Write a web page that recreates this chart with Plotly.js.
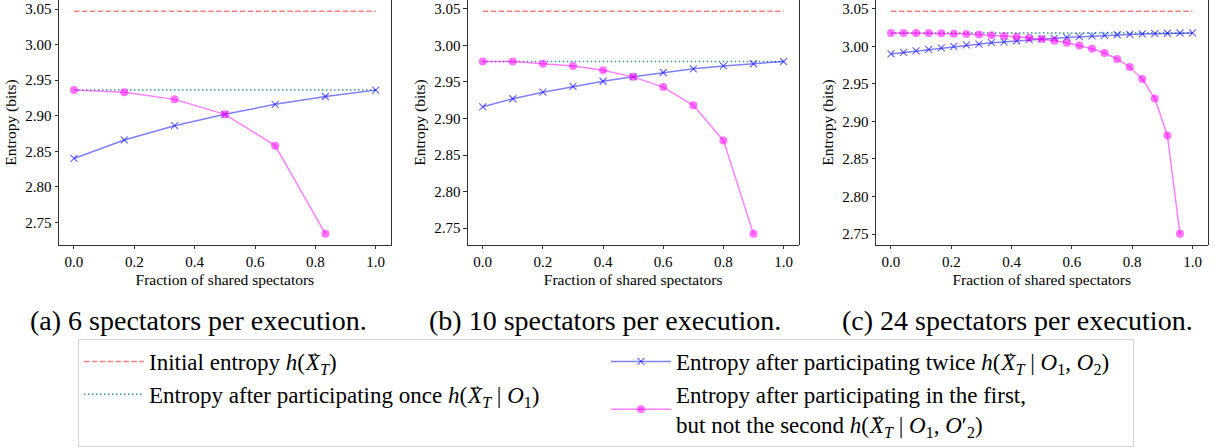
<!DOCTYPE html>
<html>
<head>
<meta charset="utf-8">
<script src="https://cdn.plot.ly/plotly-3.0.1.min.js"></script>
<style>html,body{margin:0;padding:0;background:#fff;}#chart{width:1215px;height:448px;}</style>
</head>
<body>
<div id="chart"></div>
<script>
// ---- data ----
const fracA = [0, 0.1667, 0.3333, 0.5, 0.6667, 0.8333, 1];
const fracB = [0, 0.1, 0.2, 0.3, 0.4, 0.5, 0.6, 0.7, 0.8, 0.9, 1];
const fracC = [0, 0.0417, 0.0833, 0.125, 0.1667, 0.2083, 0.25, 0.2917, 0.3333, 0.375, 0.4167, 0.4583, 0.5,
               0.5417, 0.5833, 0.625, 0.6667, 0.7083, 0.75, 0.7917, 0.8333, 0.875, 0.9167, 0.9583, 1];

const initialEntropy = [3.047, 3.047, 3.047];   // per panel
const onceEntropy = [2.936, 2.978, 3.018];      // per panel

const twiceA = [2.840, 2.866, 2.886, 2.902, 2.916, 2.927, 2.936];
const firstOnlyA = [2.936, 2.933, 2.923, 2.902, 2.858, 2.734];

const twiceB = [2.916, 2.927, 2.936, 2.944, 2.951, 2.957, 2.963, 2.968, 2.972, 2.975, 2.978];
const firstOnlyB = [2.978, 2.978, 2.975, 2.972, 2.966, 2.957, 2.943, 2.918, 2.870, 2.742];

const twiceC = [2.990, 2.992, 2.994, 2.996, 2.998, 3.000, 3.002, 3.003, 3.005, 3.006, 3.0075, 3.009, 3.010,
                3.011, 3.012, 3.013, 3.014, 3.0148, 3.0155, 3.016, 3.0166, 3.0171, 3.0175, 3.0179, 3.018];
const firstOnlyC = [3.018, 3.018, 3.0179, 3.0177, 3.0174, 3.017, 3.0165, 3.0158, 3.015, 3.014, 3.0128, 3.0114,
                    3.0098, 3.0076, 3.0048, 3.0013, 2.9968, 2.9912, 2.9832, 2.9726, 2.9566, 2.9306, 2.8813, 2.7502];

const xTicks = [0, 0.2, 0.4, 0.6, 0.8, 1.0];
const yTicks = [2.75, 2.80, 2.85, 2.90, 2.95, 3.00, 3.05];
const captions = ["(a) 6 spectators per execution.", "(b) 10 spectators per execution.", "(c) 24 spectators per execution."];

const XT = "<i>h</i>(<span style=\"font-size:15px;letter-spacing:-14px;baseline-shift:13px\">\u2192</span><i>X</i><sub><i>T</i></sub>";
const legendNames = [
  "Initial entropy " + XT + ")",
  "Entropy after participating once " + XT + " | <i>O</i><sub>1</sub>)",
  "Entropy after participating twice " + XT + " | <i>O</i><sub>1</sub>, <i>O</i><sub>2</sub>)",
  "Entropy after participating in the first,<br>but not the second " + XT + " | <i>O</i><sub>1</sub>, <i>O</i>\u2032<sub>2</sub>)"
];

// ---- styles ----
const FONT = "\"Liberation Serif\", \"DejaVu Serif\", serif";
const cRed = "rgba(255,0,0,0.5)";
const cTeal = "rgba(0,128,128,0.8)";
const cBlue = "rgba(0,0,255,0.5)";
const cPink = "rgba(255,0,255,0.5)";

const panels = [
  {frac: fracA, twice: twiceA, first: firstOnlyA},
  {frac: fracB, twice: twiceB, first: firstOnlyB},
  {frac: fracC, twice: twiceC, first: firstOnlyC}
];
const domainsX = [[58.9/1215, 390.8/1215], [467.7/1215, 798.6/1215], [875.9/1215, 1207.6/1215]];
const yDom = [1 - 245/448, 1];

const traces = [];
const layout = {
  width: 1215, height: 448,
  margin: {l: 0, r: 0, t: 0, b: 0},
  paper_bgcolor: "#fff", plot_bgcolor: "#fff",
  font: {family: FONT, size: 15, color: "#000"},
  showlegend: true,
  legend: {
    orientation: "h", x: 0.0642, y: 1 - 339/448, xanchor: "left", yanchor: "top",
    bgcolor: "#fff", bordercolor: "#d4d4d4", borderwidth: 1,
    font: {family: FONT, size: 23, color: "#000"},
    entrywidth: 452, entrywidthmode: "pixels", itemwidth: 60, tracegroupgap: 0,
    valign: "middle"
  },
  annotations: []
};

panels.forEach((p, i) => {
  const sfx = i === 0 ? "" : String(i + 1);
  const xa = "x" + sfx, ya = "y" + sfx;
  const lead = i === 0;
  traces.push({x: [p.frac[0], p.frac[p.frac.length - 1]], y: [initialEntropy[i], initialEntropy[i]],
    xaxis: xa, yaxis: ya, mode: "lines", name: legendNames[0], showlegend: lead, legendrank: 1,
    line: {color: cRed, width: 1.5, dash: "5.5px,2.4px"}, hoverinfo: "skip"});
  traces.push({x: [p.frac[0], p.frac[p.frac.length - 1]], y: [onceEntropy[i], onceEntropy[i]],
    xaxis: xa, yaxis: ya, mode: "lines", name: legendNames[1], showlegend: lead, legendrank: 3,
    line: {color: cTeal, width: 1.5, dash: "1.5px,2.5px"}, hoverinfo: "skip"});
  traces.push({x: p.frac, y: p.twice, xaxis: xa, yaxis: ya, mode: "lines+markers", name: legendNames[2],
    showlegend: lead, legendrank: 2,
    line: {color: cBlue, width: 1.5},
    marker: {symbol: "x-thin", size: 7, color: cBlue, line: {color: "rgba(0,0,255,0.6)", width: 1.2}}});
  traces.push({x: p.frac.slice(0, p.first.length), y: p.first, xaxis: xa, yaxis: ya, mode: "lines+markers",
    name: legendNames[3], showlegend: lead, legendrank: 4,
    line: {color: cPink, width: 1.5},
    marker: {symbol: "circle", size: 8, color: "rgba(255,0,255,0.55)", line: {width: 0}}});

  const allY = [initialEntropy[i], onceEntropy[i]].concat(p.twice, p.first);
  const ymin = Math.min(...allY), ymax = Math.max(...allY), span = ymax - ymin;

  const axCommon = {
    showgrid: false, zeroline: false, showline: true, linecolor: "#000", linewidth: 0.8,
    ticks: "outside", ticklen: 3.5, tickwidth: 0.8, tickcolor: "#000",
    tickfont: {family: FONT, size: 15, color: "#000"}
  };
  layout["xaxis" + sfx] = Object.assign({}, axCommon, {
    domain: domainsX[i], anchor: ya, range: [-0.05, 1.05],
    tickmode: "array", tickvals: xTicks, ticktext: xTicks.map(v => v.toFixed(1)),
    title: {text: "Fraction of shared spectators", font: {family: FONT, size: 15.5, color: "#000"}, standoff: 4}
  });
  layout["yaxis" + sfx] = Object.assign({}, axCommon, {
    domain: yDom, anchor: xa, range: [ymin - 0.05 * span, ymax + 0.05 * span], mirror: true,
    tickmode: "array", tickvals: yTicks, ticktext: yTicks.map(v => v.toFixed(2)),
    title: {text: "Entropy (bits)", font: {family: FONT, size: 15.5, color: "#000"}, standoff: 4}
  });
  layout.annotations.push({
    xref: "paper", yref: "paper", x: [198, 605, 1017][i] / 1215, y: 1 - 320/448,
    xanchor: "center", yanchor: "middle", showarrow: false, text: captions[i],
    font: {family: FONT, size: 28, color: "#000"}
  });
});

Plotly.newPlot("chart", traces, layout, {displayModeBar: false, staticPlot: true});
</script>
</body>
</html>
